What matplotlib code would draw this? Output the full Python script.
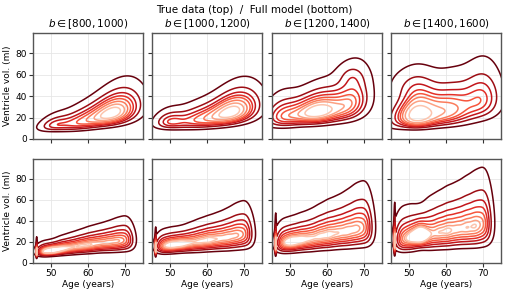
import numpy as np
import matplotlib
matplotlib.use("Agg")
import matplotlib.pyplot as plt

# ---- data: density components ----
col_titles = [r"$b \in [800, 1000)$", r"$b \in [1000, 1200)$",
              r"$b \in [1200, 1400)$", r"$b \in [1400, 1600)$"]

# each component: (age centre, median vol, sd age, sd log-vol, correlation, weight)
true_800 = [(67.5, 28, 4.0, 0.36, 0.40, 0.62), (59.0, 19, 4.5, 0.40, 0.45, 0.24),
            (51.0, 15, 2.5, 0.32, 0.30, 0.05)]
true_1000 = [(67.5, 29, 4.0, 0.34, 0.35, 0.57), (59.0, 21, 5.0, 0.36, 0.30, 0.28),
             (50.0, 18, 2.5, 0.30, 0.10, 0.07)]
true_1200 = [(58.0, 29, 5.0, 0.34, 0.30, 0.55), (48.0, 25, 3.0, 0.38, 0.10, 0.12),
             (67.0, 39, 3.0, 0.36, 0.30, 0.20), (66.5, 60, 2.5, 0.13, 0.00, 0.03)]
true_1400 = [(52.0, 27, 3.0, 0.40, 0.10, 0.25), (60.0, 31, 6.0, 0.42, 0.30, 0.45),
             (70.0, 43, 3.0, 0.35, 0.10, 0.13), (46.0, 23, 2.0, 0.45, 0.00, 0.015),
             (51.0, 52, 4.0, 0.20, 0.00, 0.05)]

model_800 = [(46.0, 12, 0.10, 0.40, 0, 0.008),
             (48.0, 12, 1.4, 0.30, 0, 0.07), (50.5, 13, 1.4, 0.28, 0, 0.08),
             (53.0, 15, 1.4, 0.30, 0, 0.08), (55.5, 16.5, 1.4, 0.31, 0, 0.08),
             (58.0, 18, 1.4, 0.31, 0, 0.09), (60.5, 19.5, 1.4, 0.32, 0, 0.10),
             (63.0, 21, 1.4, 0.32, 0, 0.10), (65.5, 22, 1.4, 0.33, 0, 0.11),
             (68.0, 23.5, 1.4, 0.34, 0, 0.12), (70.5, 25, 1.4, 0.35, 0, 0.12)]
model_1000 = [(46.0, 16, 0.10, 0.40, 0, 0.008),
              (48.0, 18, 1.4, 0.32, 0, 0.07), (50.5, 19, 1.4, 0.31, 0, 0.08),
              (53.0, 20, 1.4, 0.30, 0, 0.08), (55.5, 21.5, 1.4, 0.32, 0, 0.08),
              (58.0, 23, 1.4, 0.33, 0, 0.09), (60.5, 24.5, 1.4, 0.33, 0, 0.10),
              (63.0, 26, 1.4, 0.34, 0, 0.10), (65.5, 27.5, 1.4, 0.35, 0, 0.11),
              (68.0, 30, 1.4, 0.36, 0, 0.12), (70.5, 32, 1.4, 0.37, 0, 0.12)]
model_1200 = [(46.0, 21, 0.10, 0.45, 0, 0.008),
              (48.0, 22, 1.4, 0.36, 0, 0.07), (50.5, 23, 1.4, 0.35, 0, 0.08),
              (53.0, 25, 1.4, 0.35, 0, 0.08), (55.5, 26.5, 1.4, 0.36, 0, 0.08),
              (58.0, 29, 1.4, 0.36, 0, 0.09), (60.5, 31, 1.4, 0.37, 0, 0.10),
              (63.0, 33, 1.4, 0.37, 0, 0.10), (65.5, 35, 1.4, 0.38, 0, 0.11),
              (68.0, 38, 1.4, 0.39, 0, 0.12), (70.5, 40, 1.4, 0.40, 0, 0.12)]
model_1400 = [(46.0, 24, 0.10, 0.48, 0, 0.008),
              (48.0, 27, 1.4, 0.40, 0, 0.07), (50.5, 28, 1.4, 0.38, 0, 0.08),
              (53.0, 29, 1.4, 0.32, 0, 0.10), (55.5, 32, 1.4, 0.39, 0, 0.08),
              (58.0, 34, 1.4, 0.39, 0, 0.09), (60.5, 36, 1.4, 0.40, 0, 0.10),
              (63.0, 38, 1.4, 0.40, 0, 0.10), (65.5, 40, 1.4, 0.41, 0, 0.11),
              (68.0, 42, 1.4, 0.42, 0, 0.12), (70.5, 45, 1.4, 0.42, 0, 0.12)]

rows = [[true_800, true_1000, true_1200, true_1400],
        [model_800, model_1000, model_1200, model_1400]]

level_props = np.linspace(0.05, 1.0, 9)[:-1]
age_lim = (45, 75)
vol_lim = (0, 99)
yticks = [0, 20, 40, 60, 80]
xticks = [50, 60, 70]


def density(comps, X, Y):
    Z = np.zeros_like(X)
    lv = np.log(Y)
    for a, m, sa, sl, rho, w in comps:
        dx = (X - a) / sa
        dy = (lv - np.log(m)) / sl
        q = (dx ** 2 - 2 * rho * dx * dy + dy ** 2) / (1 - rho ** 2)
        Z += w / (sa * sl * np.sqrt(1 - rho ** 2) * Y) * np.exp(-0.5 * q)
    return Z


def iso_levels(Z, props):
    v = np.sort(Z.ravel())
    c = np.cumsum(v)
    c /= c[-1]
    idx = np.clip(np.searchsorted(c, props), 0, len(v) - 1)
    return v[idx]


fig = plt.figure(figsize=(5.08, 2.94), dpi=100)
W, H = 508, 294
lefts = [33, 152, 272, 391]
aw = 110
row_top = [33, 159]
row_bot = [139, 263]

xs = np.linspace(40, 80, 500)
ys = np.linspace(0.5, 140, 700)
X, Y = np.meshgrid(xs, ys)
line_colors = [plt.cm.Reds(v) for v in np.linspace(1.0, 0.22, len(level_props))]

for r in range(2):
    for c in range(4):
        ax = fig.add_axes([lefts[c] / W, 1 - row_bot[r] / H, aw / W,
                           (row_bot[r] - row_top[r]) / H])
        Z = density(rows[r][c], X, Y)
        lev = iso_levels(Z, level_props)
        ax.contour(X, Y, Z, levels=lev, colors=line_colors, linewidths=1.1)
        ax.set_xlim(*age_lim)
        ax.set_ylim(*vol_lim)
        ax.set_xticks(xticks)
        ax.set_yticks(yticks)
        ax.grid(True, color="#e6e6e6", linewidth=0.6)
        ax.set_axisbelow(True)
        for s in ax.spines.values():
            s.set_color("#555555")
            s.set_linewidth(1.0)
        ax.tick_params(length=3, width=0.8, color="#333333", labelsize=6.5, pad=1.5)
        if c > 0:
            ax.set_yticklabels([])
        else:
            ax.set_ylabel("Ventricle vol. (ml)", fontsize=6.5, labelpad=2)
        if r == 0:
            ax.set_xticklabels([])
            ax.set_title(col_titles[c], fontsize=7.5, pad=4)
        else:
            ax.set_xlabel("Age (years)", fontsize=6.5, labelpad=1)

fig.text(0.5, 1 - 10 / H, "True data (top)  /  Full model (bottom)",
         ha="center", va="center", fontsize=7.5)
fig.savefig("out.png", dpi=100)
